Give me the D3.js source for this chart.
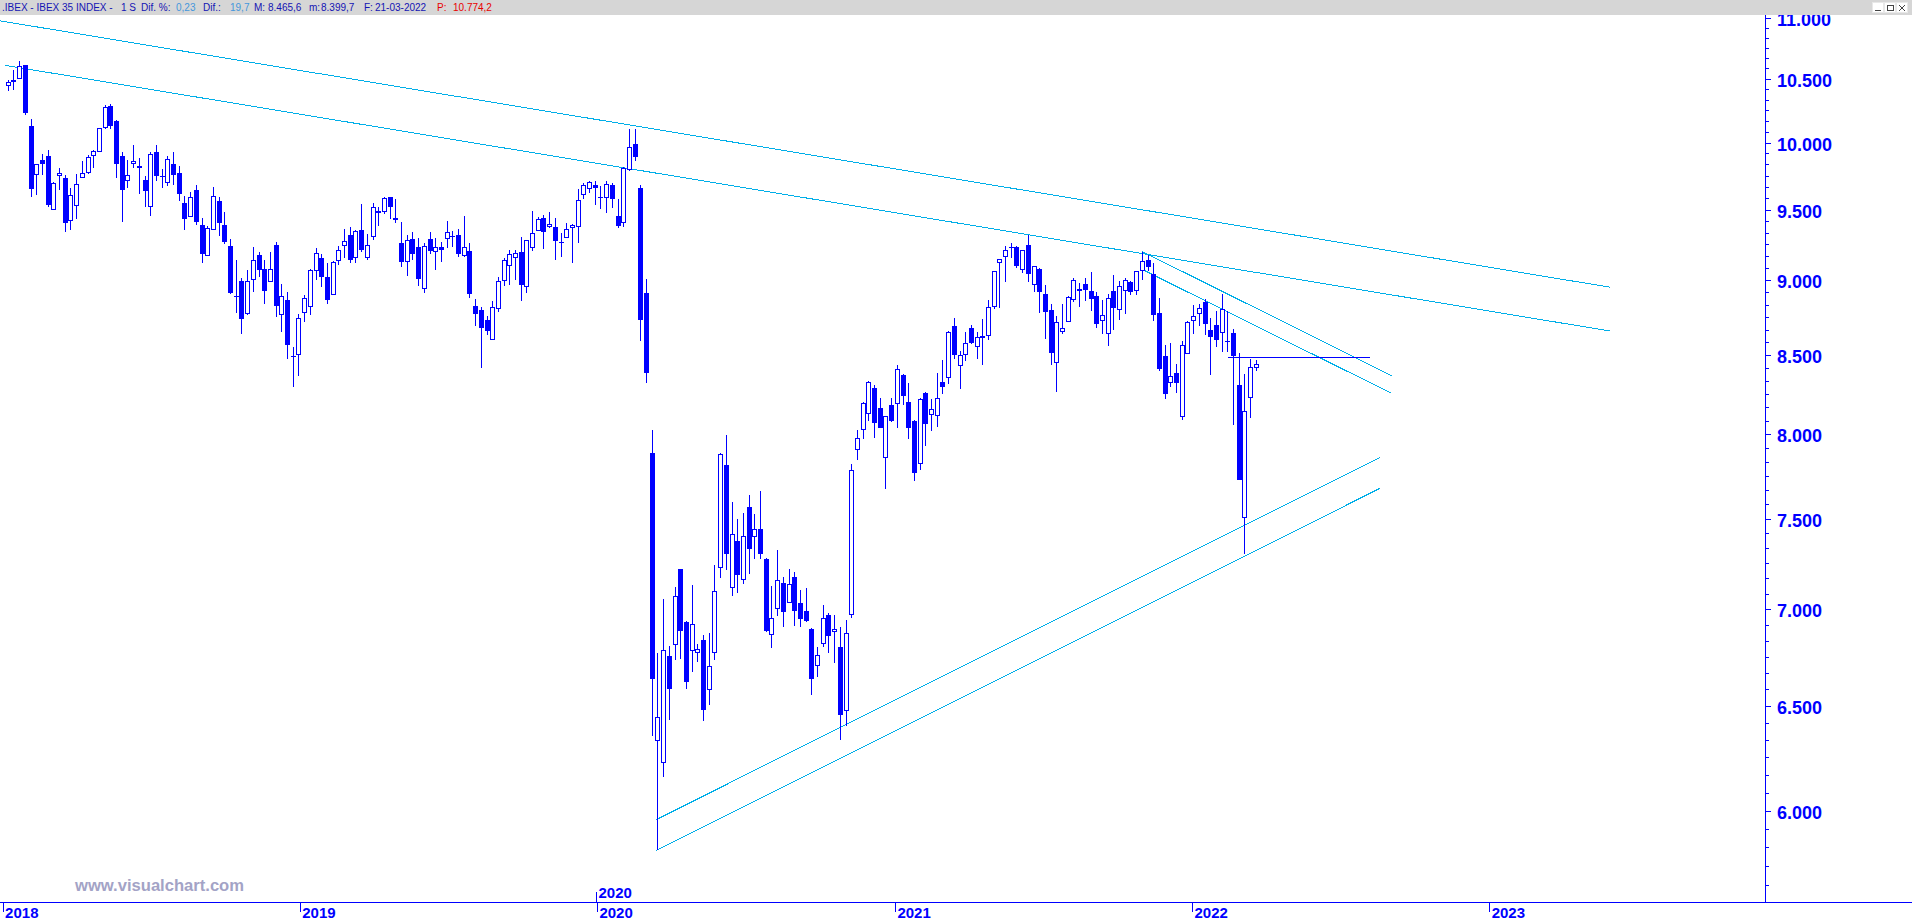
<!DOCTYPE html>
<html><head><meta charset="utf-8">
<script src="https://cdn.jsdelivr.net/npm/d3@7"></script>
<style>html,body{margin:0;padding:0;background:#fff;overflow:hidden}svg{display:block}</style>
</head><body>
<svg id="c" width="1912" height="922"></svg>
<script>
// ---------- DATA ----------
const firstWeek = "2018-01-08";
const lastWeek  = "2022-03-21";
const open = [10448,10490,10508,10610,10129,9763,9870,9897,9502,9756,9735,9424,9532,9741,9778,9905,9934,10119,10284,10168,
9899,9718,9845,9825,9718,9525,9927,9745,9703,9838,9770,9547,9453,9644,9389,9177,9361,9562,9389,9236,
8895,8993,8779,9009,9177,9078,8993,9248,8773,8866,8495,8509,8786,8824,9071,9156,9023,8906,9141,9248,
9318,9163,9354,9163,9311,9490,9488,9592,9438,9262,9134,9290,9233,8947,9290,9205,9233,9297,9311,9318,
9177,9205,8826,8799,8733,8606,8813,9000,9106,9163,9198,8960,9233,9354,9438,9382,9375,9271,9304,9375,
9382,9614,9659,9681,9592,9592,9681,9453,9410,9801,9987,9661,8916,7888,6331,6226,6752,6813,7216,6933,
6782,6773,6835,6586,6771,7231,7817,7120,7375,7162,7568,7403,7442,7272,6869,7004,7142,7040,7176,7032,
6988,6895,6709,6818,6967,6885,6802,6479,6973,7911,8032,8133,8290,8164,7864,8183,8196,8372,8202,8082,
7826,8259,8126,8120,8328,8360,8693,8436,8505,8679,8559,8619,8632,8826,9127,9170,9235,9233,9078,9248,
8973,9078,8906,8799,8455,8659,8726,8873,8940,8973,8926,8893,8733,8646,8926,8806,8933,8987,8933,9071,
9141,9043,8779,8494,8326,8385,8114,8512,8733,8779,8855,8666,8699,8652,8592,8646,8309,7509,8233,8425];
const high = [10490,10570,10643,10612,10184,9840,9914,9944,9706,9810,9758,9661,9765,9862,9907,9944,10115,10288,10299,10170,
9929,9864,9981,9884,9750,9929,9981,9802,9897,9929,9825,9601,9631,9681,9441,9384,9666,9592,9483,9290,
9144,9016,9073,9235,9200,9144,9200,9271,8975,8917,8554,8773,8902,9080,9228,9186,9122,9136,9240,9363,
9375,9354,9542,9325,9549,9519,9592,9595,9577,9412,9318,9339,9297,9262,9339,9297,9269,9419,9347,9361,
9455,9262,8873,8820,8759,8860,9021,9153,9212,9212,9304,9285,9488,9446,9460,9481,9438,9332,9403,9396,
9651,9696,9711,9711,9671,9711,9696,9577,9815,10106,10106,9684,9012,8027,6766,7055,6804,7118,7220,6938,
7127,6814,6861,6871,7242,7888,7996,7599,7499,7534,7635,7528,7659,7276,7124,7322,7176,7215,7203,7104,
7115,6900,6797,7021,6978,6967,6906,6943,7822,8027,8198,8330,8305,8227,8116,8227,8436,8375,8322,8088,
8227,8265,8221,8385,8467,8655,8746,8525,8652,8699,8652,8739,8866,9066,9151,9240,9262,9236,9214,9318,
9101,9085,8967,8840,8759,8840,8893,9014,8980,9014,9057,8920,8866,8906,9035,8993,9014,8993,9066,9198,
9177,9120,8880,8567,8581,8442,8589,8722,8833,8840,8873,8746,8793,8906,8793,8672,8512,8376,8473,8466];
const low = [10398,10406,10500,10216,9589,9604,9753,9522,9500,9641,9337,9351,9429,9739,9760,9805,9924,10103,10103,9731,
9407,9659,9810,9614,9517,9450,9711,9656,9671,9678,9564,9351,9443,9386,9117,9175,9359,9308,9252,8904,
8779,8636,8763,8917,9025,8837,8990,8750,8650,8477,8297,8364,8717,8763,9002,8951,8837,8904,9103,9153,
9117,9117,9198,9139,9283,9379,9467,9431,9403,9092,9033,9141,8964,8910,9184,9071,9127,9226,9233,9163,
9163,8877,8692,8417,8632,8604,8786,8960,8971,9002,8857,8910,9205,9347,9219,9368,9141,9163,9297,9120,
9262,9577,9621,9532,9502,9474,9510,9368,9375,9784,9858,8593,8320,6353,5824,6155,6429,6733,6737,6586,
6671,6720,6425,6503,6733,7168,7212,7068,7085,7135,7190,7273,7273,6880,6795,6960,6904,7035,6909,6904,
6929,6553,6645,6800,6769,6718,6334,6403,6950,7844,7974,8080,7980,8040,7675,8078,8042,8181,7974,7720,
7785,7927,8023,8048,8253,8316,8473,8284,8461,8572,8473,8436,8599,8806,8813,8987,9156,9085,9050,8987,
8920,8779,8606,8436,8265,8639,8724,8853,8820,8860,8793,8679,8639,8559,8666,8733,8773,8900,8900,9000,
9064,8726,8398,8218,8294,8256,8086,8510,8639,8690,8632,8372,8553,8519,8519,8057,7725,7299,8101,8400];
const close = [10472,10476,10600,10229,9648,9838,9835,9537,9698,9770,9400,9607,9689,9770,9890,9934,10111,10276,10127,9835,
9644,9756,9860,9805,9633,9912,9748,9742,9875,9753,9614,9431,9592,9410,9181,9370,9599,9400,9266,8910,
8890,8737,8993,9141,9068,8924,9078,8824,8890,8563,8490,8746,8880,9073,9191,9025,8864,9127,9212,9276,
9141,9347,9212,9248,9517,9478,9584,9517,9424,9124,9283,9184,9011,9240,9205,9233,9212,9339,9304,9184,
9233,8906,8773,8679,8659,8820,8993,9141,9184,9191,8971,9283,9332,9431,9339,9396,9276,9267,9361,9389,
9569,9681,9703,9659,9581,9689,9574,9382,9810,9967,9890,8733,8385,6637,6446,6783,6586,7072,6883,6620,
6921,6787,6479,6699,7098,7878,7301,7414,7187,7403,7329,7442,7301,6883,6952,7159,6986,7137,6991,6945,
6934,6637,6756,6952,6857,6895,6455,6875,7787,7976,8196,8328,8067,8042,8114,8080,8410,8237,8042,7767,
8221,8061,8158,8227,8297,8652,8499,8499,8579,8579,8619,8626,8820,9064,9149,9212,9231,9099,9212,9043,
9099,8920,8786,8512,8719,8679,8886,9000,8926,8933,8873,8706,8766,8880,8813,8960,9000,8920,9064,9134,
9092,8766,8410,8250,8366,8319,8566,8719,8759,8813,8706,8619,8599,8806,8586,8492,7728,8145,8423,8443];

const yearLabels  = ["2018","2019","2020","2021","2022","2023"];
const cursorYear  = "2020";
const priceLabels = [6000,6500,7000,7500,8000,8500,9000,9500,10000,10500,11000];

// trend lines: [startDate, startPrice, endDate, endPrice]
const channelLines = [
  ["2017-12-29",10975,"2023-05-29",8953],
  ["2018-01-04",10608,"2023-05-29",8658],
  ["2021-11-01",9200,"2022-09-03",8367],
  ["2021-11-03",9069,"2022-09-03",8255],
  ["2020-03-14",5959,"2022-08-20",7861],
  ["2020-03-14",5820,"2022-08-20",7677]
];
const levelLines = [["2022-02-14",8490,"2022-08-07",8490]];

const headerParts = [
  [".IBEX - IBEX 35 INDEX -","k"],["1 S","k"],["Dif. %:","k"],["0,23","l"],["Dif.:","k"],["19,7","l"],
  ["M:","k"],["8.465,6","k"],["m:","k"],["8.399,7","k"],["F:","k"],["21-03-2022","k"],["P:","r"],["10.774,2","r"]
];
const headerX = [2,121,141,176,203,230,254,268,309,321,364,375,437,453];

// ---------- CHART ----------
const W = 1912, H = 922;
const axisX = 1765, axisY = 902, topY = 15;
const BLUE = "#0000ff", CYAN = "#00aee8";
const svg = d3.select("#c");
svg.append("rect").attr("width",W).attr("height",H).attr("fill","#fff");

const pd = d3.utcParse("%Y-%m-%d");
const x = d3.scaleUtc().domain([Date.UTC(2018,0,1), Date.UTC(2023,0,2)]).range([2.6, 1490]);
const y = d3.scaleLog().domain([6000, 10500]).range([810.6, 78.7]);

const dates = d3.utcMonday.range(pd(firstWeek), d3.utcDay.offset(pd(lastWeek),1));

svg.append("clipPath").attr("id","plot").append("rect")
  .attr("x",0).attr("y",topY).attr("width",axisX).attr("height",axisY-topY);
const plot = svg.append("g").attr("clip-path","url(#plot)");

// watermark
svg.append("text").attr("x",75).attr("y",890.5)
  .attr("font-family","Liberation Sans, Arial, sans-serif").attr("font-weight","bold")
  .attr("font-size",16).attr("fill","#a3a3c6").attr("textLength",169).attr("lengthAdjust","spacingAndGlyphs")
  .text("www.visualchart.com");

// trend lines
const tl = plot.append("g").attr("shape-rendering","crispEdges");
tl.selectAll("line.ch").data(channelLines).join("line").attr("class","ch")
  .attr("x1",d=>x(pd(d[0]))).attr("y1",d=>y(d[1]))
  .attr("x2",d=>x(pd(d[2]))).attr("y2",d=>y(d[3]))
  .attr("stroke",CYAN).attr("stroke-width",1);
tl.selectAll("line.lv").data(levelLines).join("line").attr("class","lv")
  .attr("x1",d=>x(pd(d[0]))).attr("y1",d=>Math.round(y(d[1]))+0.5)
  .attr("x2",d=>x(pd(d[2]))).attr("y2",d=>Math.round(y(d[3]))+0.5)
  .attr("stroke",BLUE).attr("stroke-width",1);

// candles
const cg = plot.append("g").attr("shape-rendering","crispEdges");
const idx = d3.range(dates.length);
const cand = cg.selectAll("g").data(idx).join("g");
cand.append("line")
  .attr("x1",i=>Math.floor(x(dates[i]))+0.5).attr("x2",i=>Math.floor(x(dates[i]))+0.5)
  .attr("y1",i=>y(high[i])).attr("y2",i=>y(low[i]))
  .attr("stroke",BLUE).attr("stroke-width",1);
cand.append("rect")
  .attr("x",i=> close[i]>=open[i] ? Math.floor(x(dates[i]))-1.5 : Math.floor(x(dates[i]))-2)
  .attr("width",i=> close[i]>=open[i] ? 4 : 5)
  .attr("y",i=>{const t=y(Math.max(open[i],close[i])); return close[i]>=open[i]? Math.round(t)+0.5 : Math.round(t);})
  .attr("height",i=>{const t=Math.round(y(Math.max(open[i],close[i]))), b=Math.round(y(Math.min(open[i],close[i])));
      return Math.max(1,b-t);})
  .attr("fill",i=> close[i]>=open[i] ? "#fff" : BLUE)
  .attr("stroke",i=> close[i]>=open[i] ? BLUE : "none")
  .attr("stroke-width",1);

// right price axis
const fmt = d3.formatLocale({decimal:",",thousands:".",grouping:[3],currency:["",""]}).format(",");
const minorVals = d3.range(5500, 11001, 500/6).map(v=>Math.round(v*100)/100)
  .filter(v=>!priceLabels.some(p=>Math.abs(p-v)<1) && y(v)>topY && y(v)<axisY);
const ya = svg.append("g").attr("transform",`translate(${axisX},0)`).attr("shape-rendering","crispEdges");
ya.append("g").call(d3.axisRight(y).tickValues(minorVals).tickSize(4).tickFormat(""))
  .call(g=>g.select(".domain").remove())
  .call(g=>g.selectAll("line").attr("stroke",BLUE));
const yMaj = ya.append("g").call(d3.axisRight(y).tickValues(priceLabels).tickSize(6).tickPadding(6).tickFormat(fmt));
yMaj.select(".domain").remove();
yMaj.selectAll("line").attr("stroke",BLUE);
yMaj.selectAll("text").attr("fill",BLUE).attr("font-family","Liberation Sans, Arial, sans-serif")
  .attr("font-weight","bold").attr("font-size",18).attr("dy","0.42em");
ya.append("line").attr("x1",0.5).attr("x2",0.5).attr("y1",topY).attr("y2",axisY).attr("stroke",BLUE);

// bottom time axis
svg.append("line").attr("x1",0).attr("x2",W).attr("y1",axisY+0.5).attr("y2",axisY+0.5)
  .attr("stroke",BLUE).attr("shape-rendering","crispEdges");
const yearDates = yearLabels.map(s=>pd(s+"-01-01"));
const xa = svg.append("g").attr("transform",`translate(0,${axisY})`).attr("shape-rendering","crispEdges")
  .call(d3.axisBottom(x).tickValues(yearDates).tickSize(10).tickFormat(d3.utcFormat("%Y")));
xa.select(".domain").remove();
xa.selectAll("line").attr("stroke",BLUE);
xa.selectAll("text").attr("fill",BLUE).attr("text-anchor","start").attr("x",2).attr("y",5).attr("dy","0.72em")
  .attr("font-family","Liberation Sans Narrow, Liberation Sans, Arial, sans-serif").attr("font-weight","bold").attr("font-size",15);

// cursor year marker above the axis
const cx0 = Math.floor(x(pd(cursorYear+"-01-01")))+0.5;
svg.append("line").attr("x1",cx0).attr("x2",cx0).attr("y1",axisY).attr("y2",axisY-10).attr("stroke",BLUE).attr("shape-rendering","crispEdges");
svg.append("text").attr("x",cx0+2).attr("y",axisY-4).attr("fill",BLUE)
  .attr("font-family","Liberation Sans Narrow, Liberation Sans, Arial, sans-serif").attr("font-weight","bold").attr("font-size",15)
  .text(cursorYear);

// header bar
svg.append("rect").attr("x",0).attr("y",0).attr("width",W).attr("height",topY).attr("fill","#d6d6d6");
const hcol = {k:"#1414b4", l:"#4496dc", r:"#e80000"};
svg.append("g").selectAll("text").data(headerParts).join("text")
  .attr("x",(d,i)=>headerX[i]).attr("y",11)
  .attr("font-family","Liberation Sans, Arial, sans-serif").attr("font-size",10)
  .attr("fill",d=>hcol[d[1]]).text(d=>d[0]);

// window buttons
const wb = svg.append("g").attr("shape-rendering","crispEdges");
[1872,1884,1896].forEach(bx=>{
  wb.append("rect").attr("x",bx+0.5).attr("y",2.5).attr("width",11).attr("height",10).attr("fill","#fff").attr("stroke","#e8e8e8");
});
wb.append("line").attr("x1",1875).attr("x2",1881).attr("y1",10.5).attr("y2",10.5).attr("stroke","#444");
wb.append("rect").attr("x",1887.5).attr("y",5.5).attr("width",6).attr("height",5).attr("fill","none").attr("stroke","#444");
wb.append("path").attr("d","M1899,5L1905,11M1905,5L1899,11").attr("stroke","#444").attr("shape-rendering","auto");
</script>
</body></html>
